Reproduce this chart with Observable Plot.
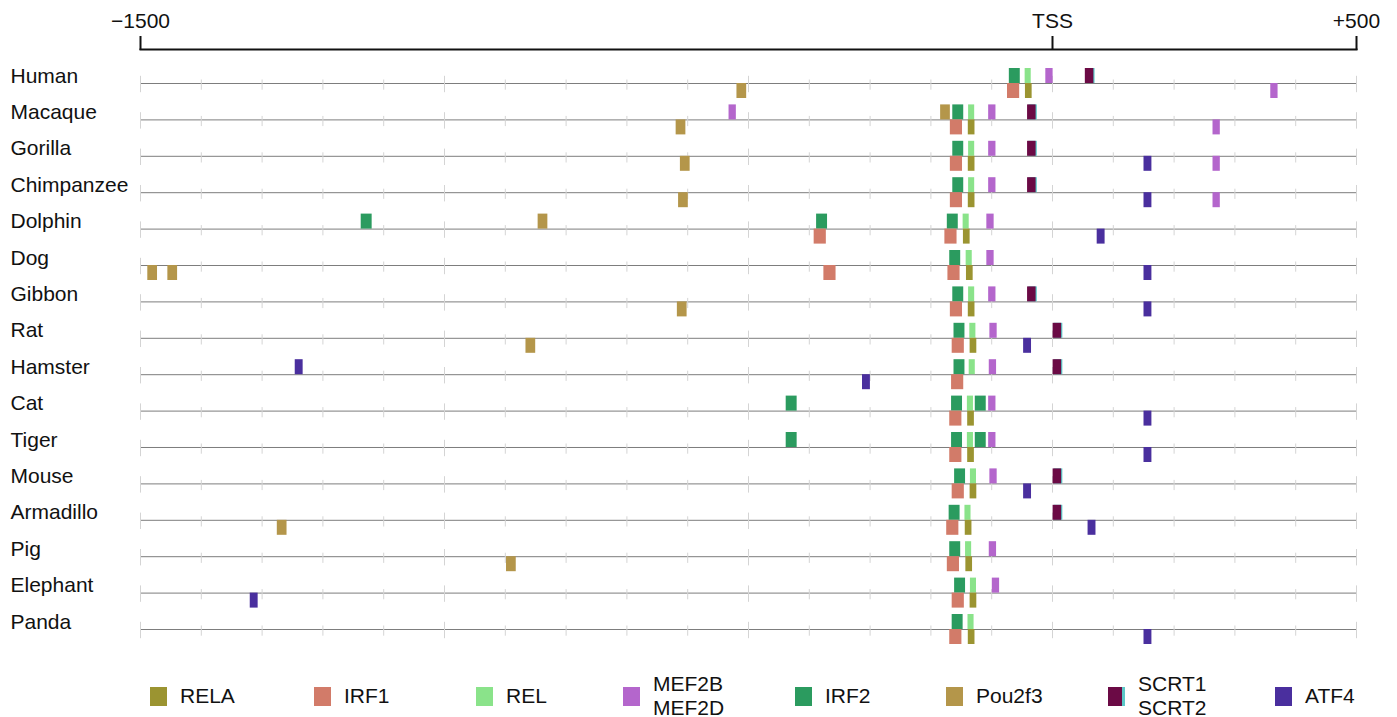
<!DOCTYPE html>
<html><head><meta charset="utf-8">
<script src="https://cdn.jsdelivr.net/npm/d3@7"></script>
<script src="https://cdn.jsdelivr.net/npm/@observablehq/plot@0.6"></script>
<style>
body{margin:0;background:#fff;font-family:"Liberation Sans",Arial,sans-serif;}
#legend{position:relative;width:1397px;height:57px;}
.item{position:absolute;top:12px;height:48px;display:flex;align-items:center;font-size:21px;color:#111;}
.sw{width:17px;height:19px;margin-right:13px;flex:none;}
.lab{line-height:24px;}
</style></head><body><div id="chart"></div><div id="legend"></div>
<script>
const species = ["Human","Macaque","Gorilla","Chimpanzee","Dolphin","Dog","Gibbon","Rat","Hamster","Cat","Tiger","Mouse","Armadillo","Pig","Elephant","Panda"];
const factors = ["RELA","IRF1","REL","MEF2","IRF2","Pou2f3","SCRT2","SCRT1","ATF4"];
const factorColors = ["#9b9431","#d27b69","#8ae38a","#b466cc","#2b9b5f","#b4964a","#5cc8c8","#6b0a45","#4a2f9e"];
const motifLength = [11,20,10,12,18,16,14,14,13];
const axisTicks = [-1500, 0, 500];
const axisLabels = ["\u22121500", "TSS", "+500"];
const legendNames = [["RELA"],["IRF1"],["REL"],["MEF2B","MEF2D"],["IRF2"],["Pou2f3"],["SCRT1","SCRT2"],["ATF4"]];
const legendColors = ["#9b9431","#d27b69","#8ae38a","#b466cc","#2b9b5f","#b4964a","#6b0a45","#4a2f9e"];
const legendLeft = [150,314,476,623,795,946,1108,1275];
const rowTicks = d3.range(-1500, 501, 100);

// [species, factor, strand (+ above line, - below), position in bp relative to TSS]
const sites = [
 ["Human","IRF2","+",-62],["Human","REL","+",-40],["Human","MEF2","+",-5],["Human","SCRT2","+",63],["Human","SCRT1","+",61],
 ["Human","IRF1","-",-64],["Human","RELA","-",-39],["Human","Pou2f3","-",-511],["Human","MEF2","-",365],
 ["Macaque","Pou2f3","+",-176],["Macaque","IRF2","+",-155],["Macaque","REL","+",-133],["Macaque","MEF2","+",-99],["Macaque","SCRT2","+",-32],["Macaque","SCRT1","+",-34],["Macaque","MEF2","+",-526],
 ["Macaque","IRF1","-",-158],["Macaque","RELA","-",-133],["Macaque","Pou2f3","-",-611],["Macaque","MEF2","-",270],
 ["Gorilla","IRF2","+",-155],["Gorilla","REL","+",-133],["Gorilla","MEF2","+",-99],["Gorilla","SCRT2","+",-32],["Gorilla","SCRT1","+",-34],
 ["Gorilla","IRF1","-",-158],["Gorilla","RELA","-",-133],["Gorilla","ATF4","-",157],["Gorilla","MEF2","-",270],["Gorilla","Pou2f3","-",-604],
 ["Chimpanzee","IRF2","+",-155],["Chimpanzee","REL","+",-133],["Chimpanzee","MEF2","+",-99],["Chimpanzee","SCRT2","+",-32],["Chimpanzee","SCRT1","+",-34],
 ["Chimpanzee","IRF1","-",-158],["Chimpanzee","RELA","-",-133],["Chimpanzee","ATF4","-",157],["Chimpanzee","MEF2","-",270],["Chimpanzee","Pou2f3","-",-607],
 ["Dolphin","IRF2","+",-164],["Dolphin","REL","+",-142],["Dolphin","MEF2","+",-102],["Dolphin","IRF2","+",-1128],["Dolphin","Pou2f3","+",-838],["Dolphin","IRF2","+",-379],
 ["Dolphin","IRF1","-",-167],["Dolphin","RELA","-",-141],["Dolphin","ATF4","-",80],["Dolphin","IRF1","-",-382],
 ["Dog","IRF2","+",-160],["Dog","REL","+",-137],["Dog","MEF2","+",-102],
 ["Dog","IRF1","-",-162],["Dog","RELA","-",-136],["Dog","ATF4","-",157],["Dog","IRF1","-",-366],["Dog","Pou2f3","-",-1480],["Dog","Pou2f3","-",-1447],
 ["Gibbon","IRF2","+",-155],["Gibbon","REL","+",-133],["Gibbon","MEF2","+",-99],["Gibbon","SCRT2","+",-32],["Gibbon","SCRT1","+",-34],
 ["Gibbon","IRF1","-",-158],["Gibbon","RELA","-",-133],["Gibbon","ATF4","-",157],["Gibbon","Pou2f3","-",-609],
 ["Rat","IRF2","+",-153],["Rat","REL","+",-131],["Rat","MEF2","+",-97],["Rat","SCRT2","+",10],["Rat","SCRT1","+",8],
 ["Rat","IRF1","-",-155],["Rat","RELA","-",-130],["Rat","ATF4","-",-41],["Rat","Pou2f3","-",-858],
 ["Hamster","IRF2","+",-153],["Hamster","REL","+",-132],["Hamster","MEF2","+",-98],["Hamster","SCRT2","+",10],["Hamster","SCRT1","+",8],["Hamster","ATF4","+",-1239],
 ["Hamster","IRF1","-",-156],["Hamster","ATF4","-",-306],
 ["Cat","IRF2","+",-157],["Cat","REL","+",-135],["Cat","IRF2","+",-118],["Cat","MEF2","+",-99],["Cat","IRF2","+",-429],
 ["Cat","IRF1","-",-159],["Cat","RELA","-",-134],["Cat","ATF4","-",157],
 ["Tiger","IRF2","+",-157],["Tiger","REL","+",-135],["Tiger","IRF2","+",-118],["Tiger","MEF2","+",-99],["Tiger","IRF2","+",-429],
 ["Tiger","IRF1","-",-159],["Tiger","RELA","-",-134],["Tiger","ATF4","-",157],
 ["Mouse","IRF2","+",-152],["Mouse","REL","+",-130],["Mouse","MEF2","+",-97],["Mouse","SCRT2","+",10],["Mouse","SCRT1","+",8],
 ["Mouse","IRF1","-",-155],["Mouse","RELA","-",-130],["Mouse","ATF4","-",-41],
 ["Armadillo","IRF2","+",-161],["Armadillo","REL","+",-139],["Armadillo","SCRT2","+",10],["Armadillo","SCRT1","+",8],
 ["Armadillo","IRF1","-",-164],["Armadillo","RELA","-",-138],["Armadillo","ATF4","-",65],["Armadillo","Pou2f3","-",-1267],
 ["Pig","IRF2","+",-160],["Pig","REL","+",-138],["Pig","MEF2","+",-98],
 ["Pig","IRF1","-",-163],["Pig","RELA","-",-137],["Pig","Pou2f3","-",-890],
 ["Elephant","IRF2","+",-152],["Elephant","REL","+",-130],["Elephant","MEF2","+",-93],
 ["Elephant","IRF1","-",-155],["Elephant","RELA","-",-130],["Elephant","ATF4","-",-1313],
 ["Panda","IRF2","+",-156],["Panda","REL","+",-134],
 ["Panda","IRF1","-",-159],["Panda","RELA","-",-133],["Panda","ATF4","-",157]
];

const rows = sites.map(([sp, f, strand, pos]) => {
  const len = motifLength[factors.indexOf(f)];
  return {sp, f, strand, x1: pos - len / 2, x2: pos + len / 2};
});
const up = rows.filter(d => d.strand === "+");
const down = rows.filter(d => d.strand === "-");
const gridMinor = d3.cross(species, rowTicks.filter(t => t % 500 !== 0), (sp, x) => ({sp, x}));
const gridMajor = d3.cross(species, rowTicks.filter(t => t % 500 === 0), (sp, x) => ({sp, x}));

const chart = Plot.plot({
  width: 1397, height: 660,
  marginLeft: 140, marginRight: 41, marginTop: 49, marginBottom: 12.8,
  style: {fontFamily: '"Liberation Sans", Arial, sans-serif', fontSize: "21px", color: "#111", background: "#fff", overflow: "visible"},
  x: {domain: [-1500, 500], axis: null},
  y: {domain: species, type: "band", padding: 0, round: false, insetTop: 15.8, axis: null},
  color: {domain: factors, range: factorColors},
  marks: [
    Plot.frame({anchor: "top", stroke: "#111", strokeWidth: 2}),
    Plot.axisX({anchor: "top", ticks: axisTicks, tickFormat: d => axisLabels[axisTicks.indexOf(d)], tickSize: 14, tickPadding: 8, strokeWidth: 2, stroke: "#111", fontSize: 21, label: null}),
    Plot.ruleY(species, {y: d => d, x1: -1500, x2: 500, stroke: "#7d7d7d", strokeWidth: 1}),
    Plot.tickX(gridMinor, {x: "x", y: "sp", stroke: "#d4d4d4", insetTop: 14.7, insetBottom: 11.5}),
    Plot.tickX(gridMajor, {x: "x", y: "sp", stroke: "#d4d4d4", insetTop: 11, insetBottom: 9}),
    Plot.barX(up, {x1: "x1", x2: "x2", y: "sp", fill: "f", insetTop: 3.2, insetBottom: 18.2}),
    Plot.barX(down, {x1: "x1", x2: "x2", y: "sp", fill: "f", insetTop: 18.2, insetBottom: 3.2}),
    Plot.text(species, {y: d => d, frameAnchor: "left", textAnchor: "start", lineAnchor: "bottom", dx: -130, dy: -1, fontSize: 21, fill: "#111"})
  ]
});
document.getElementById("chart").appendChild(chart);

const legend = document.getElementById("legend");
legendNames.forEach((names, i) => {
  const item = document.createElement("div");
  item.className = "item";
  item.style.left = legendLeft[i] + "px";
  const sw = document.createElement("div");
  sw.className = "sw";
  sw.style.background = names[0] === "SCRT1"
    ? `linear-gradient(to right, ${legendColors[i]} 84%, #5cc8c8 84%)`
    : legendColors[i];
  const lab = document.createElement("div");
  lab.className = "lab";
  lab.innerHTML = names.join("<br>");
  item.appendChild(sw); item.appendChild(lab);
  legend.appendChild(item);
});
</script>
</body></html>
